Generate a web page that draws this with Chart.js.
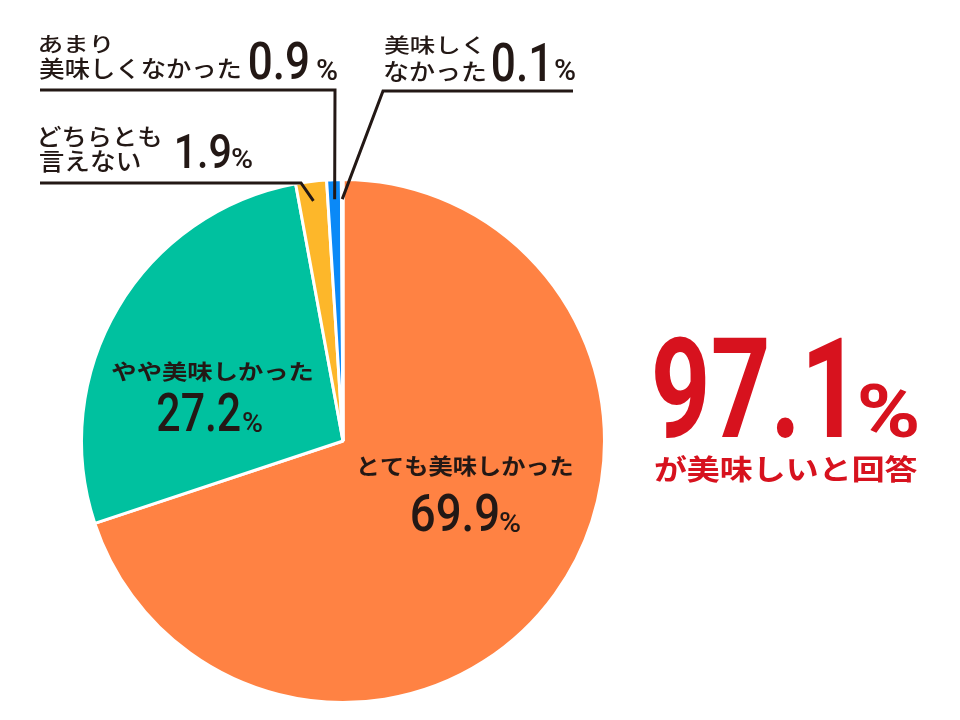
<!DOCTYPE html>
<html lang="ja">
<head>
<meta charset="utf-8">
<script src="https://cdn.jsdelivr.net/npm/chart.js@4.4.1/dist/chart.umd.min.js"></script>
<style>
  html, body { margin: 0; padding: 0; background: #fff; }
  #wrap { position: relative; width: 960px; height: 720px; }
</style>
</head>
<body>
<div id="wrap"><canvas id="pieChart"></canvas></div>
<script>
// データ
const categories = ['とても美味しかった', 'やや美味しかった', 'どちらとも言えない', 'あまり美味しくなかった', '美味しくなかった'];
const values = [69.9, 27.2, 1.9, 0.9, 0.1];
const sliceColors = ['#FF8243', '#00C19F', '#FDB72A', '#0A89F7', '#FFFFFF'];

const INK = '#231815';
const RED = '#D7121E';
const JP = '"Noto Sans CJK JP", "Noto Sans", sans-serif';
const NUM = 'Roboto, "Liberation Sans", "DejaVu Sans", sans-serif';

// 文字をインクの外枠に合わせて描く
function drawBox(ctx, text, font, color, left, top, width, height) {
    ctx.save();
    ctx.font = font;
    ctx.textAlign = 'left';
    ctx.textBaseline = 'alphabetic';
    const m = ctx.measureText(text);
    const w = m.actualBoundingBoxLeft + m.actualBoundingBoxRight;
    const h = m.actualBoundingBoxAscent + m.actualBoundingBoxDescent;
    ctx.translate(left, top);
    ctx.scale(width / w, height / h);
    ctx.fillStyle = color;
    ctx.fillText(text, m.actualBoundingBoxLeft, m.actualBoundingBoxAscent);
    ctx.restore();
}

// ラベル配置 (ブロック: [text, 種類, left, top, width, height])
const labelLayout = [
    // あまり美味しくなかった
    [['あまり', 'jp', 40, 35, 70, 18], ['美味しくなかった', 'jp', 40, 57, 200, 23],
     [values[3].toFixed(1), 'num', 250, 42, 58, 38], ['%', 'pct', 317, 59, 20, 21]],
    // どちらとも言えない
    [['どちらとも', 'jp', 40, 125, 120, 22], ['言えない', 'jp', 40, 150, 100, 22],
     [values[2].toFixed(1), 'num', 177, 132, 53, 36], ['%', 'pct', 232, 148, 20, 20]],
    // 美味しくなかった
    [['美味しく', 'jp', 385, 35, 95, 20], ['なかった', 'jp', 385, 62, 100, 20],
     [values[4].toFixed(1), 'num', 493, 42, 52, 40], ['%', 'pct', 555, 59, 20, 21]],
    // やや美味しかった
    [['やや美味しかった', 'jpb', 112, 361, 200, 21],
     [values[1].toFixed(1), 'numb', 158, 393, 82, 39], ['%', 'pct', 243, 412, 19, 20]],
    // とても美味しかった
    [['とても美味しかった', 'jpb', 360, 455, 212, 22],
     [values[0].toFixed(1), 'numb', 412, 494, 86, 38], ['%', 'pct', 500, 512, 20, 20]]
];

const fonts = {
    jp: '500 40px ' + JP,
    jpb: '700 40px ' + JP,
    num: '500 100px ' + NUM,
    numb: '500 100px ' + NUM,
    pct: '500 60px ' + NUM
};

// 引き出し線 (スライス番号, 折れ点, 終点x)
const leaders = [
    { index: 2, elbow: [301, 183], endX: 40 },
    { index: 3, elbow: [335, 90], endX: 40 },
    { index: 4, elbow: [383, 91], endX: 573 }
];

const labelPlugin = {
    id: 'jpLabels',
    afterDraw(chart) {
        const ctx = chart.ctx;
        const meta = chart.getDatasetMeta(0);

        // 引き出し線
        ctx.save();
        ctx.strokeStyle = INK;
        ctx.lineWidth = 3;
        ctx.lineJoin = 'miter';
        leaders.forEach(l => {
            const arc = meta.data[l.index];
            const mid = (arc.startAngle + arc.endAngle) / 2;
            const r = arc.outerRadius * 0.925;
            const ax = arc.x + Math.cos(mid) * r;
            const ay = arc.y + Math.sin(mid) * r;
            ctx.beginPath();
            ctx.moveTo(ax, ay);
            ctx.lineTo(l.elbow[0], l.elbow[1]);
            ctx.lineTo(l.endX, l.elbow[1]);
            ctx.stroke();
        });
        ctx.restore();

        // ラベル
        labelLayout.forEach(block => {
            block.forEach(([text, kind, left, top, w, h]) => {
                drawBox(ctx, text, fonts[kind], INK, left, top, w, h);
            });
        });

        // 合計
        const positive = (values[0] + values[1]).toFixed(1);
        drawBox(ctx, positive, '700 200px ' + NUM, RED, 655, 335, 187, 103);
        drawBox(ctx, '%', '700 120px ' + NUM, RED, 860, 383, 57, 55);
        drawBox(ctx, 'が美味しいと回答', '700 60px ' + JP, RED, 655, 455, 262, 28);
    }
};

new Chart(document.getElementById('pieChart'), {
    type: 'pie',
    data: {
        labels: categories,
        datasets: [{
            data: values,
            backgroundColor: sliceColors,
            borderColor: '#FFFFFF',
            borderWidth: 3,
            hoverOffset: 0
        }]
    },
    options: {
        responsive: true,
        maintainAspectRatio: false,
        animation: false,
        layout: {
            padding: { left: 80, right: 354, top: 178, bottom: 16 }
        },
        plugins: {
            legend: { display: false },
            tooltip: { enabled: false }
        }
    },
    plugins: [labelPlugin]
});
</script>
</body>
</html>
